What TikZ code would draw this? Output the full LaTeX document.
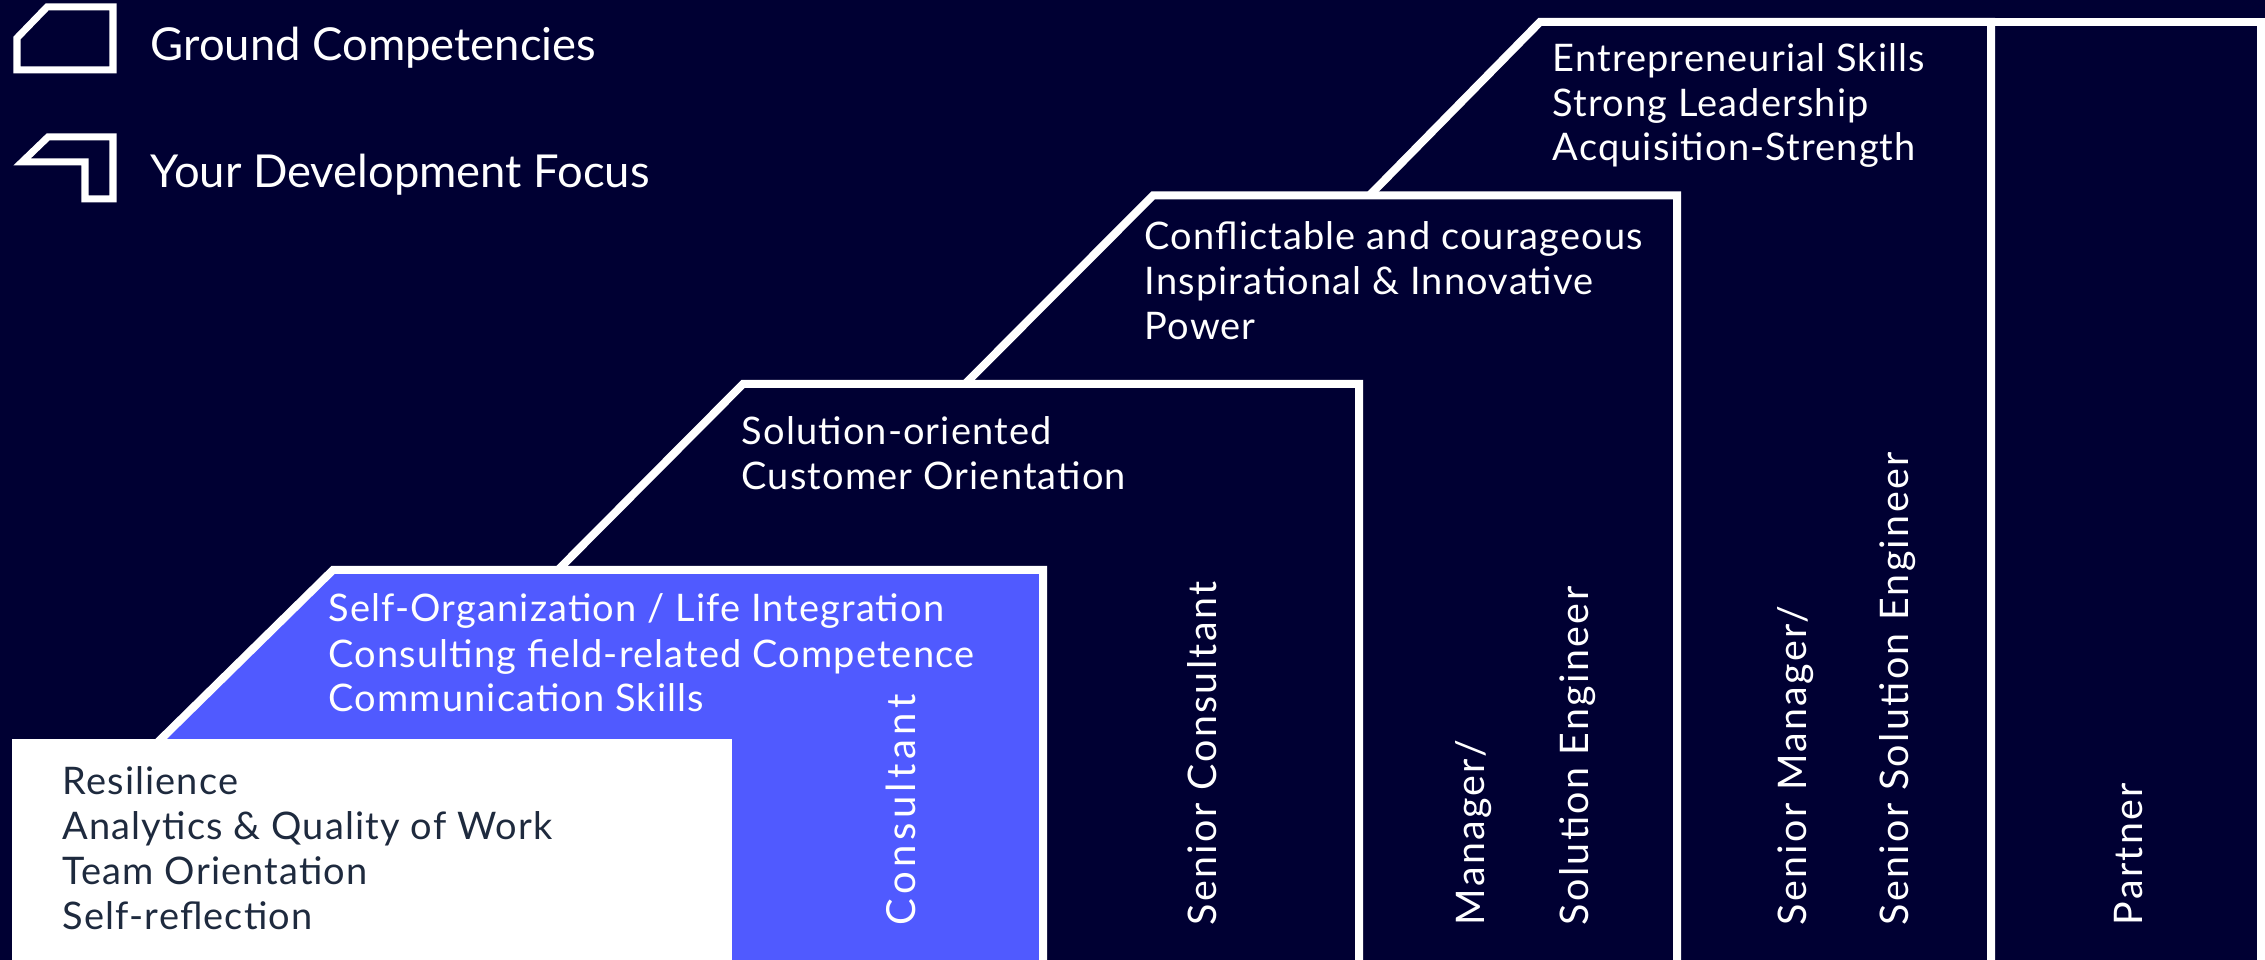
\documentclass[tikz,border=0pt]{standalone}
\usepackage{fontspec}
\setmainfont{Lato}
\newfontfamily\hfont{Lato}[LetterSpace=3]
\newfontfamily\vfont{Lato}[LetterSpace=6]
\newfontfamily\cfont{Lato}[LetterSpace=11]
\definecolor{bg}{RGB}{0,0,51}
\definecolor{accent}{RGB}{80,90,255}
\definecolor{ink}{RGB}{30,42,62}
\tikzset{
  outline/.style={draw=white, line width=0.08cm, line join=miter},
  iconline/.style={draw=white, line width=0.07cm, line join=miter},
  txt/.style={anchor=base west, inner sep=0pt, text=white, font=\hfont\fontsize{10.8}{12}\selectfont},
  darktxt/.style={txt, text=ink},
  legendtxt/.style={anchor=base west, inner sep=0pt, text=white, font=\fontsize{12.9}{14}\selectfont},
  vlab/.style={rotate=90, anchor=base west, inner sep=0pt, text=white, font=\vfont\fontsize{11.2}{13}\selectfont},
  clab/.style={vlab, font=\cfont\fontsize{11.4}{13}\selectfont},
}
\begin{document}
\begin{tikzpicture}[x=0.01cm,y=0.01cm]
\useasboundingbox (0,0) rectangle (2265,960);
\fill[bg] (0,0) rectangle (2265,960);
% Partner
\fill[bg] (1991,-20) rectangle (2261,938);
\draw[outline] (1991,938) -- (2261,938) -- (2261,-20);
% Senior Manager
\fill[bg] (1369,764) -- (1540,938) -- (1991,938) -- (1991,-20) -- (1369,-20) -- cycle;
\draw[outline] (1365,760) -- (1540,938) -- (1991,938) -- (1991,-20);
% Manager
\fill[bg] (966,577) -- (1153,764.5) -- (1677,764.5) -- (1677,-20) -- (966,-20) -- cycle;
\draw[outline] (962,573) -- (1153,764.5) -- (1677,764.5) -- (1677,-20);
% Senior Consultant
\fill[bg] (558,390) -- (743,576) -- (1359,576) -- (1359,-20) -- (558,-20) -- cycle;
\draw[outline] (554,386) -- (743,576) -- (1359,576) -- (1359,-20);
% Consultant (blue)
\fill[accent] (161,221) -- (333,390) -- (1043,390) -- (1043,-20) -- (161,-20) -- cycle;
\draw[outline] (157,217) -- (333,390) -- (1043,390) -- (1043,-20);
% Ground competencies box
\fill[white] (12,-20) rectangle (732,221);
% legend icons
\draw[iconline] (17,890) -- (17,922) -- (47,953) -- (113,953) -- (113,890) -- cycle;
\draw[iconline] (22,798) -- (48,823) -- (113,823) -- (113,761) -- (85,761) -- (85,798) -- cycle;
\node[legendtxt] (lg1) at (150,899) {Ground Competencies};
\node[legendtxt] (lg2) at (150,772) {Your Development Focus};
% texts
\node[txt] (p1) at (1552,888) {Entrepreneurial Skills};
\node[txt] (p2) at (1552,843.5) {Strong Leadership};
\node[txt] (p3) at (1552,799) {Acquisition-Strength};
\node[txt] (m1) at (1144,710) {Conflictable and courageous};
\node[txt] (m2) at (1144,665) {Inspirational \& Innovative};
\node[txt] (m3) at (1144,620) {Power};
\node[txt] (s1) at (741,515) {Solution-oriented};
\node[txt] (s2) at (741,470) {Customer Orientation};
\node[txt] (b1) at (328,338) {Self-Organization / Life Integration};
\node[txt] (b2) at (328,292) {Consulting field-related Competence};
\node[txt] (b3) at (328,248) {Communication Skills};
\node[darktxt] (w1) at (62,165) {Resilience};
\node[darktxt] (w2) at (62,120) {Analytics \& Quality of Work};
\node[darktxt] (w3) at (62,75) {Team Orientation};
\node[darktxt] (w4) at (62,30) {Self-reflection};
% vertical labels
\node[clab] (v1) at (915,34) {Consultant};
\node[vlab] (v2) at (1216,34) {Senior Consultant};
\node[vlab] (v3) at (1484,34) {Manager/};
\node[vlab] (v4) at (1588,34) {Solution Engineer};
\node[vlab] (v5) at (1806,34) {Senior Manager/};
\node[vlab] (v6) at (1908,34) {Senior Solution Engineer};
\node[vlab] (v7) at (2142,34) {Partner};
\end{tikzpicture}
\end{document}
